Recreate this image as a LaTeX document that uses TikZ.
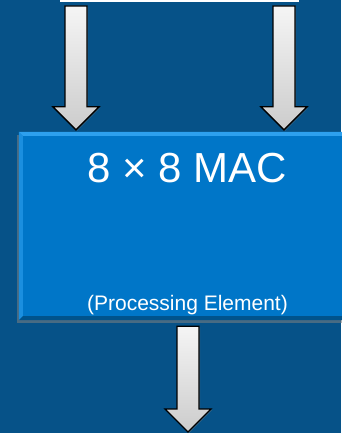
\documentclass[tikz,border=0pt]{standalone}
\usepackage{fontspec}
\setmainfont{Liberation Sans}
\usetikzlibrary{calc,shadows}

\definecolor{bgblue}{RGB}{6,82,136}
\definecolor{macblue}{RGB}{0,118,200}
\definecolor{bevelblue}{RGB}{45,160,238}

% fat arrow from the middle of its tail (#1) to its tip (#2)
\newcommand{\blockarrow}[2]{%
  \draw[block arrow] ($(#1)+(-11,0)$) -- ($(#2)+(-11,23)$) -- ($(#2)+(-23,23)$)
    -- (#2) -- ($(#2)+(23,23)$) -- ($(#2)+(11,23)$) -- ($(#1)+(11,0)$) -- cycle;}

\begin{document}
\begin{tikzpicture}[x=1pt,y=1pt,
  block arrow/.style={draw=black,line width=1.4pt,line join=miter,top color=gray!8,bottom color=gray!40,
    drop shadow={shadow xshift=1pt,shadow yshift=-1pt,opacity=0.4}},
  mac box/.style={rectangle,fill=macblue,minimum width=338pt,minimum height=188pt,inner sep=0pt,
    drop shadow={shadow xshift=-2pt,shadow yshift=-3pt,opacity=0.55}},
  in bus/.style={rectangle,fill=white,minimum width=239pt,minimum height=5pt,inner sep=0pt},
  big label/.style={text=white,font=\fontsize{42}{46}\selectfont,inner sep=0pt},
  small label/.style={text=white,font=\fontsize{21}{24}\selectfont,inner sep=0pt}]
  \useasboundingbox[fill=bgblue] (0,0) rectangle (341,-433);

  \node[in bus] (bus) at (179.5,0) {};
  \node[mac box] (mac) at (188,-226) {};
  \fill[bevelblue] (mac.north west) -- (mac.north east) -- ($(mac.north east)+(0,-4)$) -- ($(mac.north west)+(4,-4)$) -- cycle;
  \fill[bevelblue!60!macblue] (mac.north west) -- ($(mac.north west)+(4,-4)$) -- ($(mac.south west)+(4,4)$) -- (mac.south west) -- cycle;
  \fill[macblue!70!black] (mac.south west) -- ($(mac.south west)+(4,4)$) -- ($(mac.south east)+(0,4)$) -- (mac.south east) -- cycle;

  \node[big label,anchor=base] (title) at ($(mac.north)+(-0.5,-51)$) {8 × 8 MAC};
  \node[small label,anchor=base] (sub) at ($(mac.south)+(-0.5,10)$) {(Processing Element)};

  \coordinate (inA) at (76,-6);
  \coordinate (inB) at (284,-6);
  \coordinate (tipA) at ($(inA |- mac.north)+(0,2)$);
  \coordinate (tipB) at ($(inB |- mac.north)+(0,2)$);
  \coordinate (outS) at ($(mac.south)+(0,-6)$);
  \coordinate (outE) at (188,-432);

  \blockarrow{inA}{tipA}
  \blockarrow{inB}{tipB}
  \blockarrow{outS}{outE}
\end{tikzpicture}
\end{document}
